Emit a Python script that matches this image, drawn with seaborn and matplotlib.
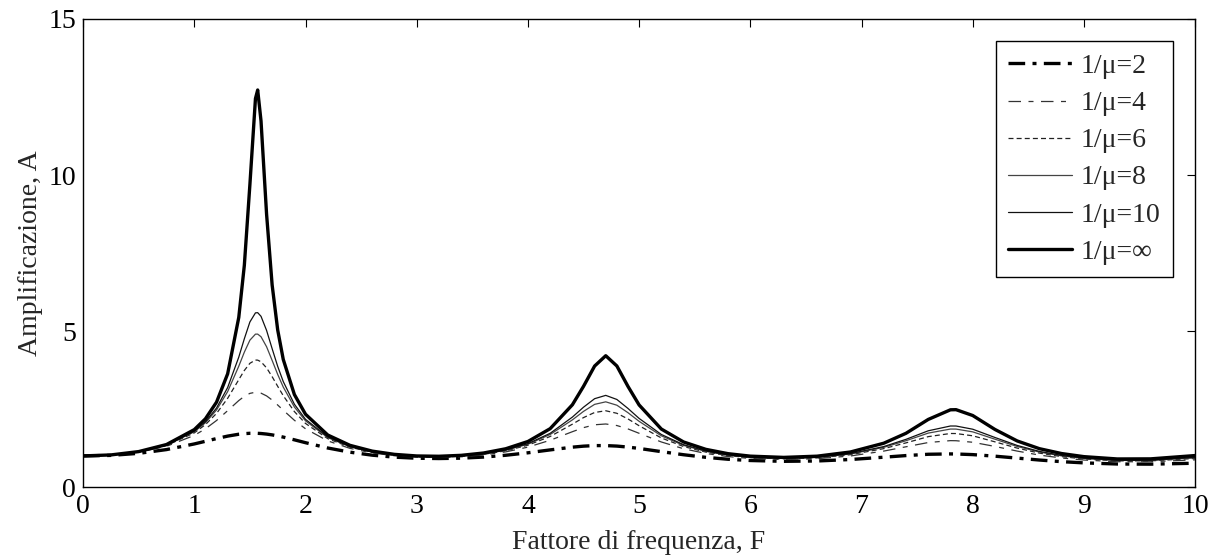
import matplotlib
matplotlib.use('Agg')
import matplotlib.pyplot as plt
import seaborn as sns
import pandas as pd

# fattore di frequenza F (shared x grid, denser near the peaks)
F = [0, 0.25, 0.5, 0.75, 1.0, 1.1, 1.2, 1.3, 1.4, 1.45,
     1.5, 1.55, 1.57, 1.6, 1.65, 1.7, 1.75, 1.8, 1.9, 2.0,
     2.2, 2.4, 2.6, 2.8, 3.0, 3.2, 3.4, 3.6, 3.8, 4.0,
     4.2, 4.4, 4.5, 4.6, 4.7, 4.8, 4.9, 5.0, 5.2, 5.4,
     5.6, 5.8, 6.0, 6.3, 6.6, 6.9, 7.2, 7.4, 7.6, 7.8,
     7.85, 8.0, 8.2, 8.4, 8.6, 8.8, 9.0, 9.3, 9.6, 10.0]

# amplificazione A for each impedance ratio
A_mu2 = [1.000, 1.017, 1.083, 1.203, 1.384, 1.469, 1.556, 1.635, 1.695, 1.714,
         1.725, 1.726, 1.724, 1.718, 1.700, 1.674, 1.641, 1.603, 1.516, 1.424,
         1.254, 1.120, 1.024, 0.961, 0.926, 0.916, 0.928, 0.963, 1.021, 1.100,
         1.193, 1.281, 1.313, 1.331, 1.331, 1.315, 1.283, 1.240, 1.137, 1.038,
         0.955, 0.893, 0.853, 0.827, 0.838, 0.885, 0.959, 1.011, 1.053, 1.064,
         1.062, 1.042, 0.992, 0.930, 0.868, 0.816, 0.777, 0.741, 0.736, 0.766]
A_mu4 = [1.000, 1.027, 1.120, 1.308, 1.658, 1.869, 2.135, 2.450, 2.774, 2.910,
         3.004, 3.040, 3.036, 3.011, 2.923, 2.790, 2.631, 2.464, 2.142, 1.870,
         1.482, 1.242, 1.095, 1.007, 0.962, 0.951, 0.973, 1.030, 1.129, 1.282,
         1.502, 1.776, 1.906, 1.998, 2.023, 1.974, 1.865, 1.725, 1.447, 1.230,
         1.079, 0.979, 0.919, 0.885, 0.911, 0.998, 1.155, 1.293, 1.429, 1.490,
         1.487, 1.438, 1.304, 1.155, 1.027, 0.933, 0.868, 0.814, 0.813, 0.875]
A_mu6 = [1.000, 1.029, 1.128, 1.334, 1.739, 2.003, 2.362, 2.846, 3.444, 3.738,
         3.968, 4.072, 4.069, 4.017, 3.821, 3.539, 3.230, 2.930, 2.421, 2.041,
         1.554, 1.279, 1.116, 1.021, 0.974, 0.963, 0.988, 1.051, 1.164, 1.344,
         1.623, 2.017, 2.228, 2.392, 2.447, 2.366, 2.185, 1.967, 1.576, 1.301,
         1.123, 1.010, 0.943, 0.907, 0.937, 1.039, 1.234, 1.418, 1.618, 1.719,
         1.717, 1.645, 1.451, 1.251, 1.090, 0.978, 0.902, 0.842, 0.842, 0.918]
A_mu8 = [1.000, 1.030, 1.132, 1.344, 1.773, 2.063, 2.473, 3.062, 3.875, 4.325,
         4.709, 4.902, 4.903, 4.819, 4.498, 4.060, 3.611, 3.206, 2.568, 2.125,
         1.588, 1.296, 1.126, 1.029, 0.980, 0.970, 0.996, 1.062, 1.181, 1.375,
         1.686, 2.155, 2.427, 2.652, 2.733, 2.625, 2.385, 2.109, 1.644, 1.338,
         1.145, 1.025, 0.955, 0.918, 0.950, 1.061, 1.275, 1.487, 1.731, 1.861,
         1.860, 1.771, 1.536, 1.303, 1.124, 1.001, 0.920, 0.856, 0.857, 0.940]
A_mu10 = [1.000, 1.030, 1.134, 1.350, 1.792, 2.095, 2.535, 3.192, 4.166, 4.754,
          5.292, 5.584, 5.590, 5.473, 5.021, 4.436, 3.869, 3.382, 2.656, 2.173,
          1.607, 1.305, 1.132, 1.033, 0.984, 0.974, 1.000, 1.068, 1.191, 1.394,
          1.724, 2.244, 2.561, 2.834, 2.940, 2.809, 2.521, 2.202, 1.687, 1.360,
          1.158, 1.034, 0.962, 0.924, 0.958, 1.074, 1.300, 1.531, 1.805, 1.959,
          1.958, 1.856, 1.591, 1.336, 1.145, 1.016, 0.931, 0.865, 0.866, 0.954]
A_inf = [1.000, 1.032, 1.139, 1.365, 1.843, 2.189, 2.723, 3.632, 5.439, 7.108,
         9.695, 12.449, 12.725, 11.731, 8.744, 6.477, 5.035, 4.091, 2.967, 2.336,
         1.670, 1.339, 1.154, 1.050, 0.999, 0.989, 1.019, 1.093, 1.229, 1.462,
         1.873, 2.639, 3.229, 3.880, 4.211, 3.882, 3.227, 2.633, 1.861, 1.447,
         1.211, 1.072, 0.993, 0.953, 0.992, 1.126, 1.407, 1.725, 2.169, 2.478,
         2.482, 2.295, 1.848, 1.480, 1.232, 1.076, 0.977, 0.903, 0.906, 1.012]

labels = ['1/\u03bc=2', '1/\u03bc=4', '1/\u03bc=6', '1/\u03bc=8', '1/\u03bc=10', '1/\u03bc=\u221e']
series = [A_mu2, A_mu4, A_mu6, A_mu8, A_mu10, A_inf]

sns.set_style('white')
plt.rcParams['font.family'] = ['Liberation Serif', 'DejaVu Serif']

fig = plt.figure(figsize=(12.22, 5.58), dpi=100)
ax = fig.add_axes([0.068, 0.127, 0.910, 0.839])

styles = [
    dict(color='black', lw=2.4, linestyle=(0, (5, 2.2, 1.2, 2.2))),
    dict(color='#333333', lw=0.9, linestyle=(0, (10, 6, 4, 6))),
    dict(color='#222222', lw=0.9, linestyle=(0, (4, 2.5))),
    dict(color='#444444', lw=0.9, linestyle='-'),
    dict(color='#111111', lw=0.9, linestyle='-'),
    dict(color='black', lw=2.4, linestyle='-'),
]

for vals, lab, st in zip(series, labels, styles):
    df = pd.DataFrame({'F': F, 'A': vals})
    sns.lineplot(data=df, x='F', y='A', ax=ax, label=lab, **st)

ax.set_xlim(0, 10)
ax.set_ylim(0, 15)
ax.set_xticks(range(0, 11))
ax.set_yticks([0, 5, 10, 15])
ax.tick_params(direction='in', length=6, width=0.8, top=True, right=True,
               labelsize=20, colors='black', pad=5)
for sp in ax.spines.values():
    sp.set_color('black')
    sp.set_linewidth(1.0)

ax.set_xlabel('Fattore di frequenza, F', fontsize=20, labelpad=8)
ax.set_ylabel('Amplificazione, A', fontsize=20, labelpad=4)

leg = ax.legend(loc='upper right', fontsize=20, frameon=True, fancybox=False,
                edgecolor='black', framealpha=1, handlelength=2.3,
                handletextpad=0.3, borderpad=0.45, labelspacing=0.42,
                borderaxespad=0.8)
leg.get_frame().set_linewidth(1.0)

fig.savefig('out.png', dpi=100)
